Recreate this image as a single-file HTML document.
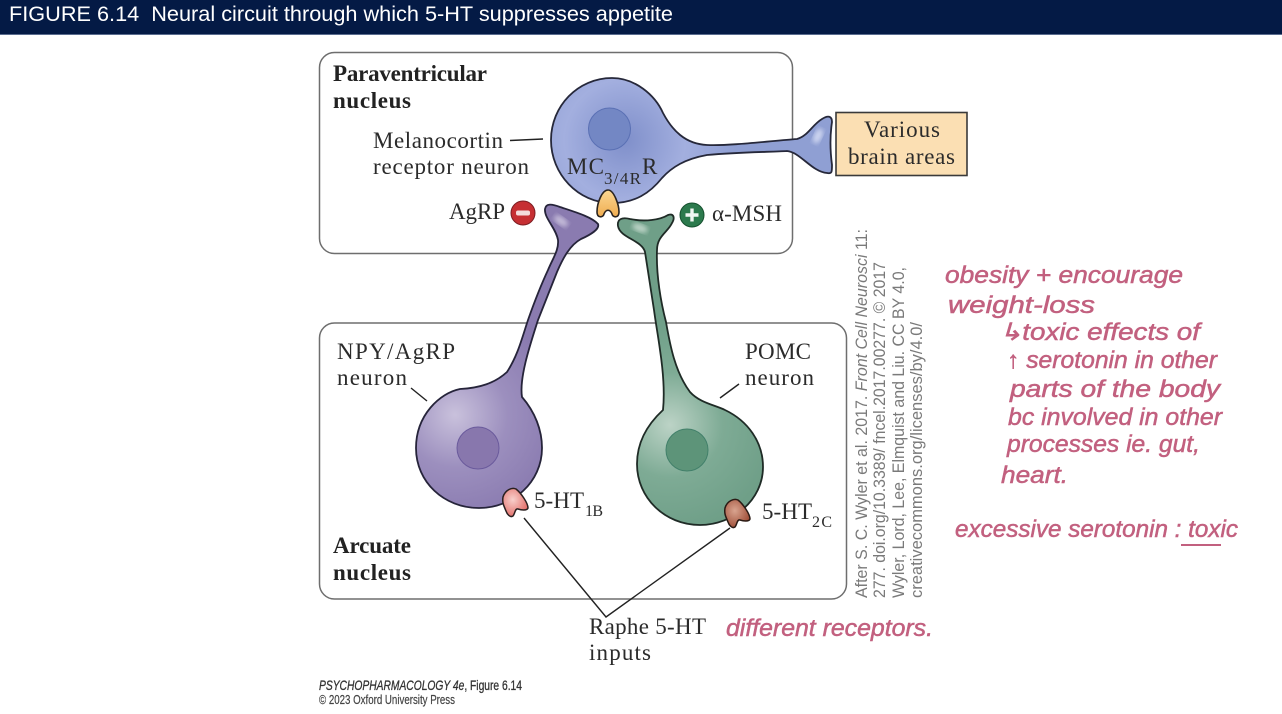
<!DOCTYPE html>
<html>
<head>
<meta charset="utf-8">
<style>
html,body{margin:0;padding:0;background:#fff;width:1282px;height:714px;overflow:hidden}
svg{display:block}
.s{font-family:"Liberation Serif",serif;font-size:23px;fill:#2b2b2b}
.b{font-weight:bold;fill:#222}
.sub{font-size:16px}
.c{font-family:"Liberation Sans",sans-serif;font-size:16.5px;fill:#7a7a7a}
.h{font-family:"Liberation Sans",sans-serif;font-style:italic;font-size:24px;fill:#c2607f;stroke:#c2607f;stroke-width:.5}
</style>
</head>
<body>
<svg width="1282" height="714" viewBox="0 0 1282 714" xmlns="http://www.w3.org/2000/svg">
<defs>
<radialGradient id="gb" gradientUnits="userSpaceOnUse" cx="625" cy="140" r="110">
<stop offset="0" stop-color="#7f8fca"/><stop offset=".55" stop-color="#a3afdf"/><stop offset="1" stop-color="#8f9fd3"/>
</radialGradient>
<radialGradient id="gp" gradientUnits="userSpaceOnUse" cx="455" cy="415" r="105">
<stop offset="0" stop-color="#c9c1dc"/><stop offset=".5" stop-color="#9c8fbe"/><stop offset="1" stop-color="#8a7bb0"/>
</radialGradient>
<radialGradient id="gg" gradientUnits="userSpaceOnUse" cx="670" cy="425" r="105">
<stop offset="0" stop-color="#bcd3c6"/><stop offset=".5" stop-color="#7eab95"/><stop offset="1" stop-color="#6f9f88"/>
</radialGradient>
<radialGradient id="gpk" cx=".4" cy=".4" r=".7"><stop offset="0" stop-color="#f8d0cc"/><stop offset="1" stop-color="#e0645f"/></radialGradient>
<radialGradient id="gbr" cx=".4" cy=".4" r=".7"><stop offset="0" stop-color="#d9a48f"/><stop offset="1" stop-color="#99452f"/></radialGradient>
<linearGradient id="go" x1="0" y1="0" x2="0" y2="1"><stop offset="0" stop-color="#fbd793"/><stop offset="1" stop-color="#f0ad50"/></linearGradient>
<filter id="bl"><feGaussianBlur stdDeviation="2.5"/></filter>
</defs>

<rect x="0" y="0" width="1282" height="34" fill="#041a45"/>
<rect x="0" y="34" width="1282" height="1" fill="#5a6c8f"/>
<text x="9" y="21" font-family="'Liberation Sans',sans-serif" font-size="21" fill="#fff" textLength="664" lengthAdjust="spacingAndGlyphs" xml:space="preserve">FIGURE 6.14  Neural circuit through which 5-HT suppresses appetite</text>

<rect x="319.5" y="52.5" width="473" height="201" rx="15" fill="#fff" stroke="#6e6e6e" stroke-width="1.5"/>
<rect x="319.5" y="323" width="527" height="276" rx="15" fill="#fff" stroke="#6e6e6e" stroke-width="1.5"/>

<!-- MC neuron -->
<path d="M612,78 C578,78 551,106 551,140 C551,174 578,203 612,203 C635,203 650,193 662,178 C672,167 685,159 707,155 C740,152 770,152 787,151 C800,152 812,172 827,173 C832,174 832,172 832,165 C830,150 830,135 832,122 C832,116 828,115 822,119 C812,125 808,136 797,139 C770,141 730,146 707,145 C685,144 672,130 663,113 C655,95 635,78 612,78 Z" fill="url(#gb)" stroke="#26283a" stroke-width="1.8"/>
<ellipse cx="818" cy="136" rx="4" ry="8" fill="#cdd5f0" filter="url(#bl)" transform="rotate(25 818 136)"/>
<circle cx="609.5" cy="129" r="21" fill="#7387c4" stroke="#5a70b4" stroke-width="1"/>
<path d="M608,190 C614,190 619,205 619,212 C619,218 613,218 612,214 C610,209 606,209 604,214 C603,218 597,218 597,212 C597,203 602,190 608,190Z" fill="url(#go)" stroke="#2a2420" stroke-width="1.6"/>

<!-- Purple neuron -->
<path d="M545,209 C546,203 552,204 560,207 C575,212 592,217 598,224 C600,229 590,235 581,239 C570,245 563,258 557,272 C549,292 544,305 538,320 C530,345 519,378 522,397 C535,412 542,430 542,448 C542,482 513,508 479,508 C444,508 416,482 416,448 C416,415 440,393 460,389 C480,388 495,383 507,372 C518,355 522,338 528,320 C534,303 541,285 548,270 C553,258 559,250 558,240 C556,228 544,218 545,209 Z" fill="url(#gp)" stroke="#26243a" stroke-width="1.8"/>
<ellipse cx="561" cy="221" rx="8" ry="4" fill="#c3bad8" filter="url(#bl)" transform="rotate(35 561 221)"/>
<circle cx="478" cy="448" r="21" fill="#8877ad" stroke="#6a5a9c" stroke-width="1"/>
<path d="M503,497 C505,490 512,487 516,489 C521,493 528,503 528,508 C527,511 521,510 518,509 C515,508 515,514 513,516 C510,518 507,514 506,511 C504,506 502,503 503,497Z" fill="url(#gpk)" stroke="#2a2020" stroke-width="1.5"/>

<!-- Green neuron -->
<path d="M618,226 C617,219 622,217 630,219 C645,222 660,220 668,215 C674,213 675,218 672,223 C668,232 657,236 657,250 C656,275 661,303 666,322 C670,345 675,372 690,392 C700,403 715,405 725,410 C748,421 763,442 763,467 C763,500 733,525 700,525 C665,525 637,498 637,464 C637,440 650,422 663,410 C665,390 663,370 660,350 C658,335 656,325 654,310 C650,285 647,265 645,252 C642,240 620,238 618,226 Z" fill="url(#gg)" stroke="#1f2b26" stroke-width="1.8"/>
<ellipse cx="640" cy="228" rx="8" ry="4" fill="#b9d2c4" filter="url(#bl)" transform="rotate(20 640 228)"/>
<circle cx="687" cy="450" r="21" fill="#5d9479" stroke="#42806a" stroke-width="1"/>
<path transform="translate(222,11)" d="M503,497 C505,490 512,487 516,489 C521,493 528,503 528,508 C527,511 521,510 518,509 C515,508 515,514 513,516 C510,518 507,514 506,511 C504,506 502,503 503,497Z" fill="url(#gbr)" stroke="#2a1a14" stroke-width="1.5"/>

<!-- Various box -->
<rect x="836" y="112.5" width="131" height="63" fill="#fbdfb3" stroke="#3a3a3a" stroke-width="1.6"/>

<!-- Leaders -->
<g stroke="#222" stroke-width="1.4" fill="none">
<path d="M510,140.5 L543,139"/>
<path d="M411,388 L427,401"/>
<path d="M720,398 L739,384"/>
<path d="M524,518 L606,617 L730,528"/>
</g>

<!-- icons -->
<circle cx="523" cy="213" r="12" fill="#c62f33" stroke="#7c1d22" stroke-width="1"/>
<rect x="516" y="210.5" width="14" height="5" rx="2" fill="#f4dcdc"/>
<circle cx="692" cy="215" r="12" fill="#2c7a4d" stroke="#15502e" stroke-width="1"/>
<path d="M685.5,215 H698.5 M692,208.5 V221.5" stroke="#f0f6f2" stroke-width="3.4"/>

<!-- Labels -->
<text class="s b" x="333" y="81" textLength="154">Paraventricular</text>
<text class="s b" x="333" y="108" textLength="78">nucleus</text>
<text class="s" x="373" y="148" textLength="130">Melanocortin</text>
<text class="s" x="373" y="174" textLength="156">receptor neuron</text>
<text class="s" x="449" y="219" textLength="56">AgRP</text>
<text class="s" x="567" y="174" textLength="37">MC</text>
<text class="s" style="font-size:17px" x="604" y="184" textLength="37">3/4R</text>
<text class="s" x="642" y="174" textLength="15">R</text>
<text class="s" x="864" y="137" textLength="76">Various</text>
<text class="s" x="848" y="164" textLength="107">brain areas</text>
<text class="s" x="712" y="221" textLength="70">α-MSH</text>
<text class="s" x="337" y="359" textLength="118">NPY/AgRP</text>
<text class="s" x="337" y="385" textLength="70">neuron</text>
<text class="s" x="745" y="359" textLength="66">POMC</text>
<text class="s" x="745" y="385" textLength="69">neuron</text>
<text class="s" x="534" y="508" textLength="50">5-HT</text>
<text class="s sub" x="585" y="516" textLength="18">1B</text>
<text class="s" x="762" y="519" textLength="50">5-HT</text>
<text class="s sub" x="812" y="527" textLength="20">2C</text>
<text class="s b" x="333" y="553" textLength="78">Arcuate</text>
<text class="s b" x="333" y="580" textLength="78">nucleus</text>
<text class="s" x="589" y="634" textLength="117">Raphe 5-HT</text>
<text class="s" x="589" y="660" textLength="62">inputs</text>

<!-- Credit -->
<g class="c">
<text class="c" transform="translate(867,598) rotate(-90)" textLength="369" lengthAdjust="spacingAndGlyphs">After S. C. Wyler et al. 2017. <tspan font-style="italic">Front Cell Neurosci</tspan> 11:</text>
<text class="c" transform="translate(885,598) rotate(-90)" textLength="336" lengthAdjust="spacingAndGlyphs">277. doi.org/10.3389/ fncel.2017.00277. © 2017</text>
<text class="c" transform="translate(904,598) rotate(-90)" textLength="331" lengthAdjust="spacingAndGlyphs">Wyler, Lord, Lee, Elmquist and Liu. CC BY 4.0,</text>
<text class="c" transform="translate(922,598) rotate(-90)" textLength="276" lengthAdjust="spacingAndGlyphs">creativecommons.org/licenses/by/4.0/</text>
</g>

<text x="319" y="690" font-family="'Liberation Sans',sans-serif" font-size="14" fill="#333" stroke="#333" stroke-width=".3" textLength="203" lengthAdjust="spacingAndGlyphs"><tspan font-style="italic">PSYCHOPHARMACOLOGY 4e</tspan>, Figure 6.14</text>
<text x="319" y="704" font-family="'Liberation Sans',sans-serif" font-size="12.5" fill="#444" stroke="#444" stroke-width=".2" textLength="136" lengthAdjust="spacingAndGlyphs">© 2023 Oxford University Press</text>

<!-- Handwriting -->
<text class="h" x="945" y="283" textLength="238" lengthAdjust="spacingAndGlyphs">obesity + encourage</text>
<text class="h" x="948" y="313" textLength="147" lengthAdjust="spacingAndGlyphs">weight-loss</text>
<text class="h" x="999" y="340" textLength="201" lengthAdjust="spacingAndGlyphs">↳toxic effects of</text>
<text class="h" x="1007" y="368" textLength="210" lengthAdjust="spacingAndGlyphs">↑ serotonin in other</text>
<text class="h" x="1010" y="397" textLength="210" lengthAdjust="spacingAndGlyphs">parts of the body</text>
<text class="h" x="1008" y="425" textLength="214" lengthAdjust="spacingAndGlyphs">bc involved in other</text>
<text class="h" x="1007" y="452" textLength="193" lengthAdjust="spacingAndGlyphs">processes ie. gut,</text>
<text class="h" x="1001" y="483" textLength="67" lengthAdjust="spacingAndGlyphs">heart.</text>
<text class="h" x="955" y="537" textLength="283" lengthAdjust="spacingAndGlyphs">excessive serotonin : toxic</text>
<path d="M1181,545 H1221" stroke="#c2607f" stroke-width="2" fill="none"/>
<text class="h" x="726" y="636" textLength="207" lengthAdjust="spacingAndGlyphs">different receptors.</text>
</svg>
</body>
</html>
